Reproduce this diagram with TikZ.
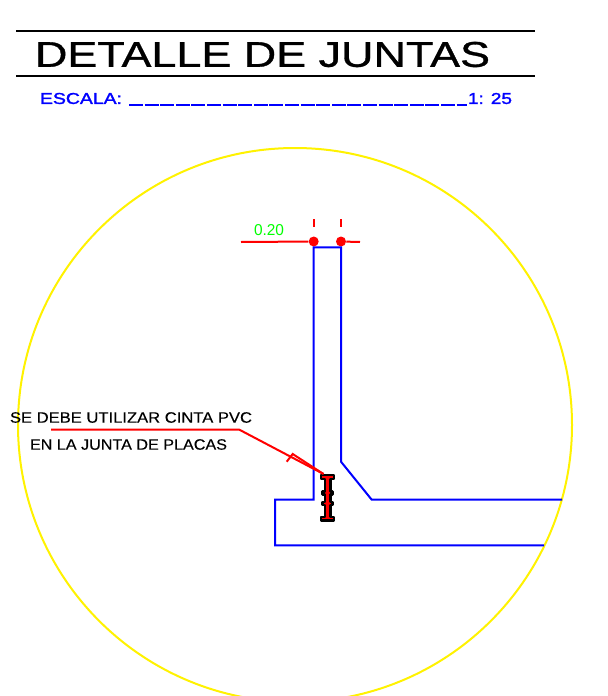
\documentclass[tikz,border=0pt]{standalone}
\usepackage{graphicx}
\usepackage{fontspec}
\setmainfont{Liberation Sans}
\newfontfamily\titlefont[FakeBold=0.8]{Liberation Sans}
\newfontfamily\scalefont[FakeBold=1.5]{Liberation Sans}
\newfontfamily\notefont[FakeBold=0.3]{Liberation Sans}
\newcommand{\fit}[3]{\resizebox{\dimexpr#1pt*3/4\relax}{\dimexpr#2pt*3/4\relax}{#3}}
\tikzset{
  x=0.75pt,y=-0.75pt,
  txt/.style={inner sep=0pt,outer sep=0pt,anchor=center},
  rule/.style={draw=black,line width=2.2pt*0.75},
  wall/.style={draw=blue,line width=2pt*0.75,line join=miter},
  reddim/.style={draw=red,line width=2pt*0.75},
  leader/.style={draw=red,line width=2pt*0.75},
  dot/.style={circle,fill=red,inner sep=0pt,minimum size=10*0.75pt},
  beam/.style={draw=black,fill=red,line width=2.6pt*0.75,line join=round}
}
\begin{document}
\begin{tikzpicture}
\useasboundingbox (0,0) rectangle (607,696);
\fill[white] (0,0) rectangle (607,696);
% circle
\begin{scope}
\clip (0,0) rectangle (607,696);
\node[draw=yellow,line width=2pt*0.75,circle,minimum size=554*0.75pt,inner sep=0pt] (ring) at (295,425) {};
\end{scope}
% title
\coordinate (r1a) at (16,31); \coordinate (r1b) at (535,31);
\coordinate (r2a) at (16,76); \coordinate (r2b) at (535,76);
\draw[rule] (r1a) -- (r1b);
\draw[rule] (r2a) -- (r2b);
\node[txt] (title) at (262.5,54.5) {\fit{455}{25}{\titlefont DETALLE DE JUNTAS}};
\node[txt,text=blue] (esc) at (81,98.5) {\fit{82}{11}{\scalefont ESCALA:}};
\coordinate (ua) at (129,105); \coordinate (ub) at (467,105);
\draw[draw=blue,line width=2pt*0.75,dash pattern=on 10.5pt off 1.2pt] (ua) -- (ub);
\node[txt,text=blue] (sc) at (490,98.5) {\fit{44}{11}{\scalefont 1: 25}};
% dimension
\node[dot] (d1) at (313.7,241.5) {};
\node[dot] (d2) at (341,241.5) {};
\coordinate (da) at (241,242); \coordinate (db) at (360,242);
\draw[reddim] (da) -- (d1);
\draw[reddim] (d2) -- (db);
\coordinate (t1a) at (313.7,219); \coordinate (t1b) at (313.7,227);
\coordinate (t2a) at (341,219); \coordinate (t2b) at (341,227);
\draw[reddim] (t1a) -- (t1b);
\draw[reddim] (t2a) -- (t2b);
\node[txt,text=green] (dim) at (269,230) {\fit{30}{11}{0.20}};
% concrete
\coordinate (w1) at (341,247.3); \coordinate (w2) at (313.7,247.3);
\coordinate (w3) at (313.7,499.7); \coordinate (w4) at (275,499.7);
\coordinate (w5) at (275,545.3); \coordinate (w6) at (544,545.3);
\coordinate (w7) at (341,461.7); \coordinate (w8) at (371.7,499.7);
\coordinate (w9) at (562,499.7);
\draw[wall] (w6) -- (w5) -- (w4) -- (w3) -- (w2) -- (w1) -- (w7) -- (w8) -- (w9);
% beam
\draw[beam] (321,475) -- (334,475) -- (334,479) -- (330.5,479) -- (330.5,491.5) -- (332.5,491.5) -- (332.5,494.5) -- (330.5,494.5) -- (330.5,502) -- (332.5,502) -- (332.5,505) -- (330.5,505) -- (330.5,517) -- (334,517) -- (334,520.5) -- (321,520.5) -- (321,517) -- (325,517) -- (325,505) -- (322.5,505) -- (322.5,502) -- (325,502) -- (325,494.5) -- (322.5,494.5) -- (322.5,491.5) -- (325,491.5) -- (325,479) -- (321,479) -- cycle;
% leader
\coordinate (l1) at (51,429.5); \coordinate (l2) at (239,429.5);
\coordinate (l3) at (323.5,474); \coordinate (l4) at (286.7,461.7); \coordinate (l5) at (292.7,454);
\draw[leader] (l1) -- (l2) -- (l3);
\draw[leader] (l4) -- (l5) -- (l3);
\node[txt] (n1) at (131,417.5) {\fit{242}{10.5}{\notefont SE DEBE UTILIZAR CINTA PVC}};
\node[txt] (n2) at (128.5,444.5) {\fit{197}{10.5}{\notefont EN LA JUNTA DE PLACAS}};
\end{tikzpicture}
\end{document}
